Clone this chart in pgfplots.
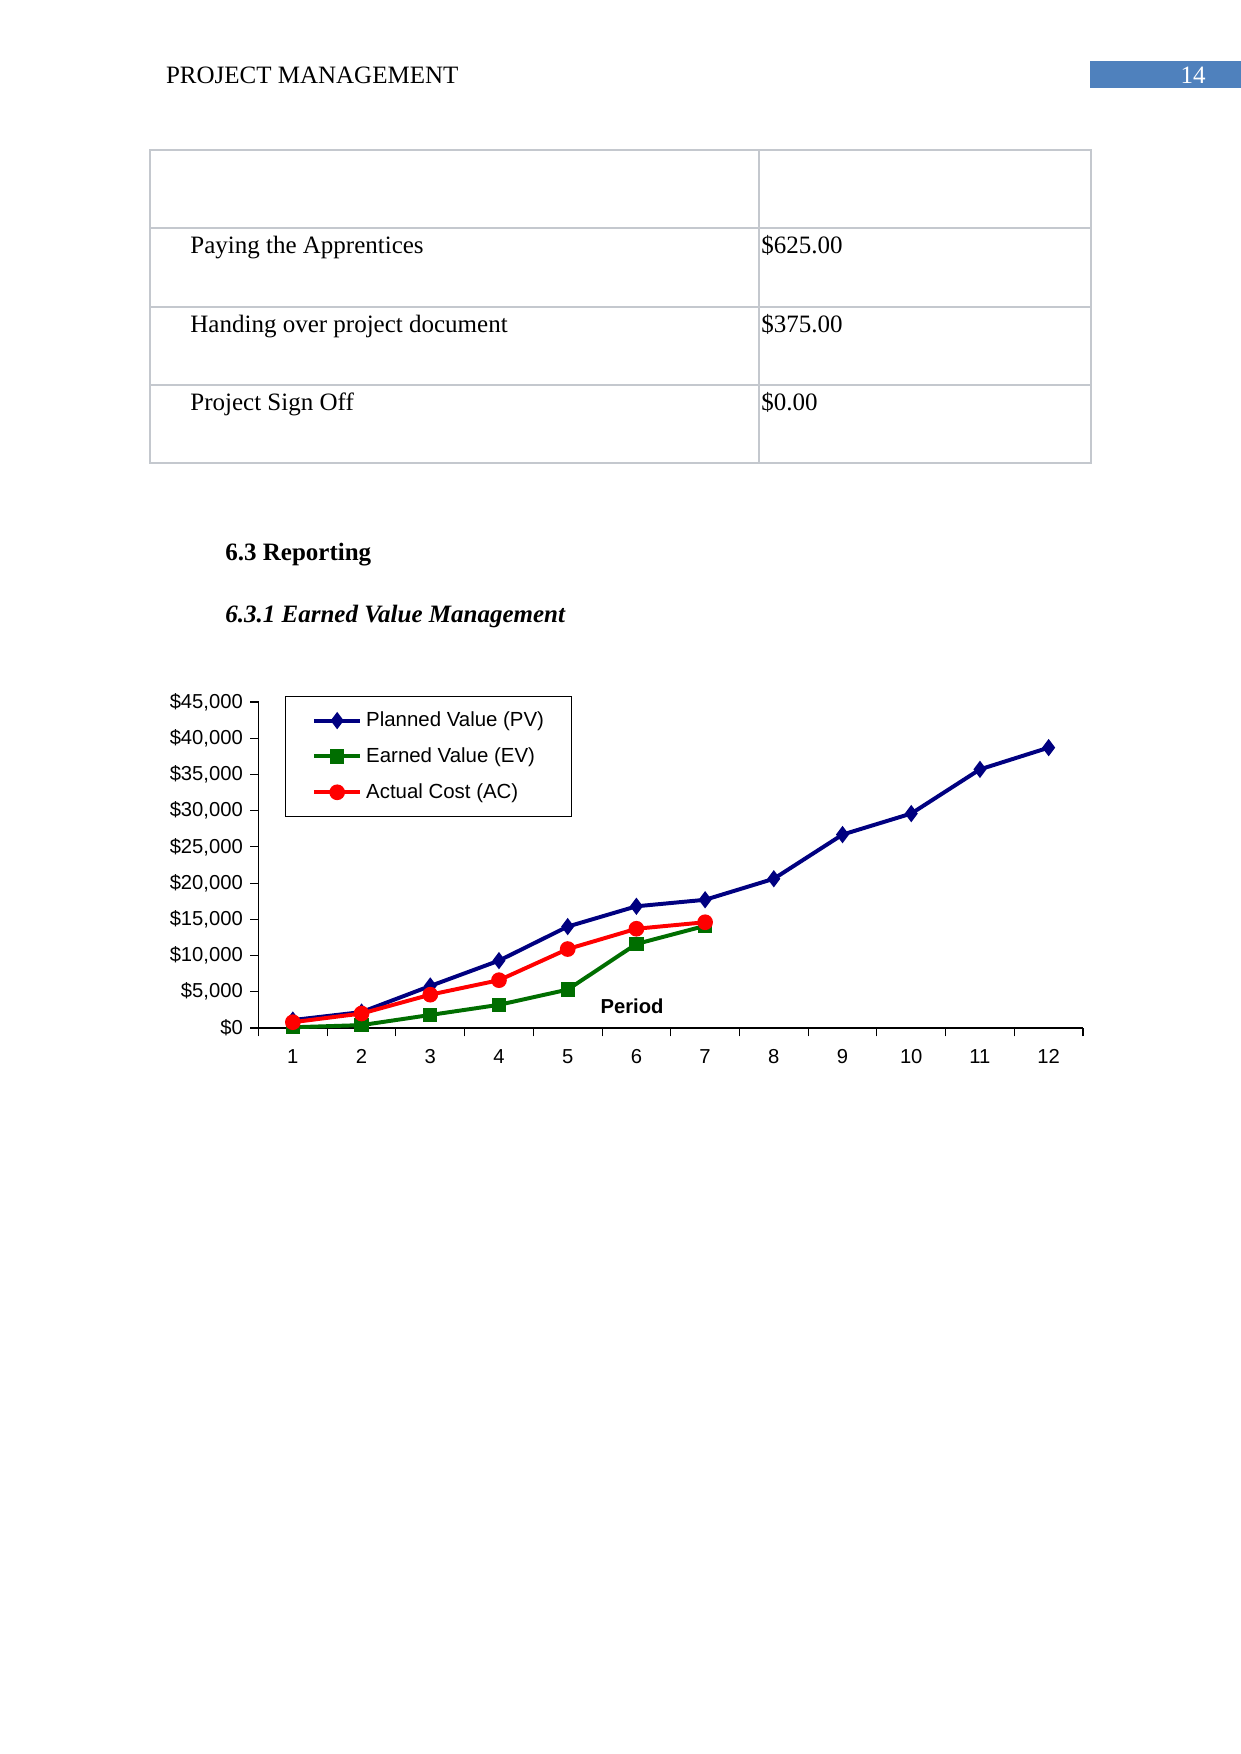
\documentclass[border=0pt]{standalone}
\usepackage{fontspec}
\setmainfont{Liberation Serif}
\newfontfamily\arial{Liberation Sans}
\usepackage{pgfplots}
\pgfplotsset{compat=1.18}
\definecolor{pvblue}{RGB}{0,0,128}
\definecolor{evgreen}{RGB}{0,110,0}
\definecolor{acred}{RGB}{255,0,0}
\definecolor{hdrblue}{RGB}{79,129,189}
\definecolor{tblgray}{RGB}{196,200,206}
\begin{document}
\begin{tikzpicture}
\fill[white] (0,0) rectangle (595.68pt,-841.92pt);
\path[use as bounding box] (0,0) rectangle (595.68pt,-841.92pt);
\begin{scope}[x=0.48pt,y=-0.48pt]
\fill[hdrblue] (1090,61.5) rectangle (1241,88.5);
\node[anchor=base west,inner sep=0pt,font=\fontsize{12}{14}\selectfont] at (165.6,84) {PROJECT MANAGEMENT};
\node[anchor=base,inner sep=0pt,text=white,font=\fontsize{12}{14}\selectfont] at (1193,84) {14};
\draw[tblgray,line width=0.55pt] (150,150) rectangle (1091,463);
\draw[tblgray,line width=0.55pt] (759,150) -- (759,463);
\draw[tblgray,line width=0.55pt] (150,228) -- (1091,228);
\draw[tblgray,line width=0.9pt] (150,307) -- (1091,307);
\draw[tblgray,line width=0.55pt] (150,385) -- (1091,385);
\begin{scope}[every node/.style={anchor=base west,inner sep=0pt,font=\fontsize{12}{14}\selectfont}]
\node at (190,254) {Paying the Apprentices};
\node at (761,254) {\$625.00};
\node at (190,332.5) {Handing over project document};
\node at (761,332.5) {\$375.00};
\node at (190,411) {Project Sign Off};
\node at (761,411) {\$0.00};
\node[font=\fontsize{12}{14}\selectfont\bfseries] at (225,561) {6.3 Reporting};
\node[font=\fontsize{12}{14}\selectfont\bfseries\itshape] at (225,622.5) {6.3.1 Earned Value Management};
\end{scope}
\end{scope}
\begin{axis}[
  at={(124.08pt,-493.44pt)}, anchor=south west,
  scale only axis, width=395.76pt, height=156.48pt,
  xmin=0.5, xmax=12.5, ymin=0, ymax=45000,
  axis lines*=left,
  axis line style={line width=0.5pt},
  tick align=outside, major tick length=4pt,
  tick style={black, line width=0.5pt},
  xtick={0.5,1.5,...,12.5},
  x tick label as interval,
  xticklabels={1,2,3,4,5,6,7,8,9,10,11,12},
  ytick={0,5000,...,45000},
  scaled y ticks=false,
  yticklabels={{\$0},{\$5,000},{\$10,000},{\$15,000},{\$20,000},{\$25,000},{\$30,000},{\$35,000},{\$40,000},{\$45,000}},
  /pgf/number format/assume math mode=true,
  ticklabel style={font=\arial\fontsize{9.7}{11.6}\selectfont},
  xticklabel style={text height=7pt, text depth=0pt, yshift=-2.6pt},
  xlabel={Period},
  xlabel style={at={(axis description cs:0.453,0.0675)}, anchor=center, font=\arial\bfseries\fontsize{9.7}{11.6}\selectfont},
  legend style={at={(axis description cs:0.032,1.018)}, anchor=north west, draw=black, line width=0.5pt,
    font=\arial\fontsize{9.8}{11.6}\selectfont, inner xsep=11.1pt, inner ysep=5.2pt, row sep=4.6pt},
  legend cell align=left,
  legend image code/.code={\path (0pt,0pt); \draw[mark repeat=2,mark phase=2,#1] plot coordinates {(1.8pt,0pt) (12.8pt,0pt) (23.8pt,0pt)};},
  clip=false,
]
\addplot[pvblue, line width=1.9pt, mark=diamond*, mark size=2.6pt, mark options={solid}] coordinates {
 (1,1100) (2,2200) (3,5800) (4,9300) (5,14000) (6,16800) (7,17700) (8,20600) (9,26700) (10,29600) (11,35700) (12,38700)};
\addplot[evgreen, line width=1.9pt, mark=square*, mark size=2.5pt, mark options={solid}] coordinates {
 (1,100) (2,400) (3,1800) (4,3200) (5,5300) (6,11600) (7,14100)};
\addplot[acred, line width=1.9pt, mark=*, mark size=2.8pt, mark options={solid}] coordinates {
 (1,800) (2,2000) (3,4600) (4,6600) (5,10900) (6,13700) (7,14600)};
\legend{Planned Value (PV), Earned Value (EV), Actual Cost (AC)}
\end{axis}
\end{tikzpicture}
\end{document}
